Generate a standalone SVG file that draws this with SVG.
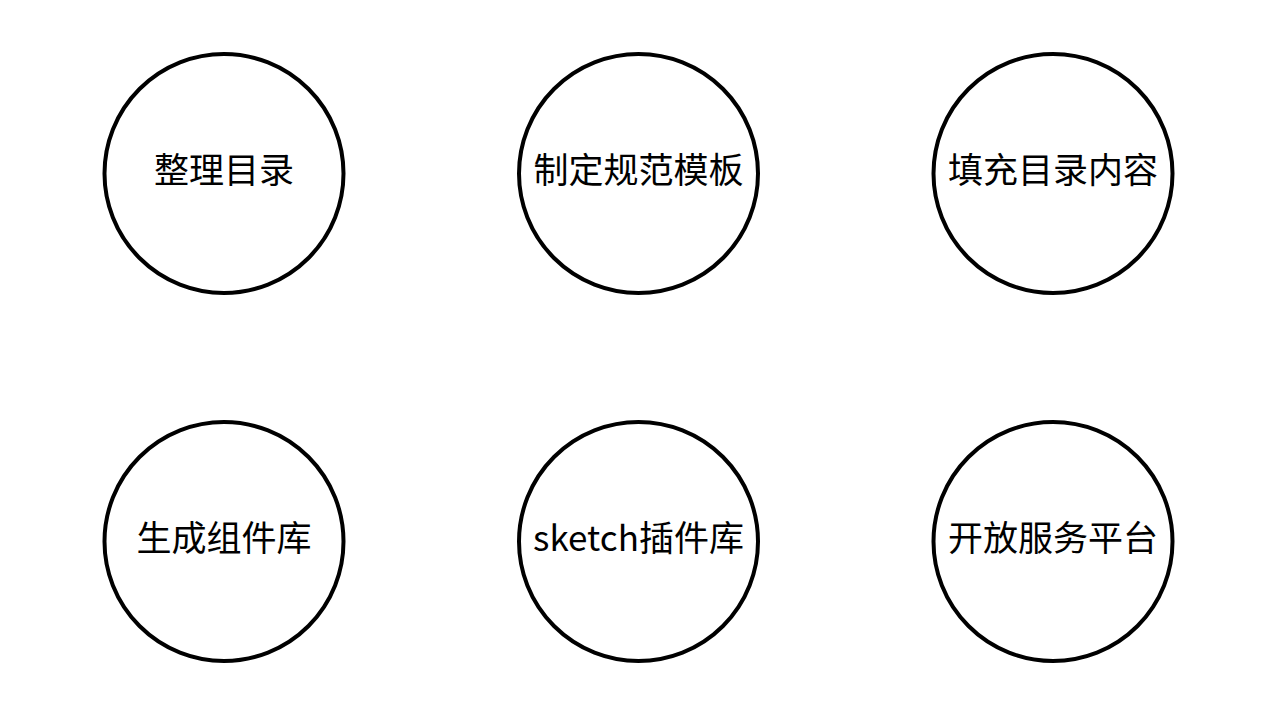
<svg xmlns="http://www.w3.org/2000/svg" width="1276" height="716" viewBox="0 0 1276 716">
<style>
.n circle{fill:#fff;stroke:#000;stroke-width:4}
.n text{font-family:"Noto Sans CJK SC","Noto Sans",sans-serif;font-size:35px;fill:#000;text-anchor:middle;dominant-baseline:central}
</style>
<rect width="1276" height="716" fill="#fff"/>
<g id="connectors"></g>
<g id="n1" class="n"><circle cx="224" cy="173.5" r="119.5"/><text x="224" y="167">整理目录</text></g>
<g id="n2" class="n"><circle cx="638.5" cy="173.5" r="119.5"/><text x="638.5" y="167">制定规范模板</text></g>
<g id="n3" class="n"><circle cx="1053" cy="173.5" r="119.5"/><text x="1053" y="167">填充目录内容</text></g>
<g id="n4" class="n"><circle cx="224" cy="541.5" r="119.5"/><text x="224" y="535">生成组件库</text></g>
<g id="n5" class="n"><circle cx="638.5" cy="541.5" r="119.5"/><text x="638.5" y="535">sketch插件库</text></g>
<g id="n6" class="n"><circle cx="1053" cy="541.5" r="119.5"/><text x="1053" y="535">开放服务平台</text></g>
</svg>
